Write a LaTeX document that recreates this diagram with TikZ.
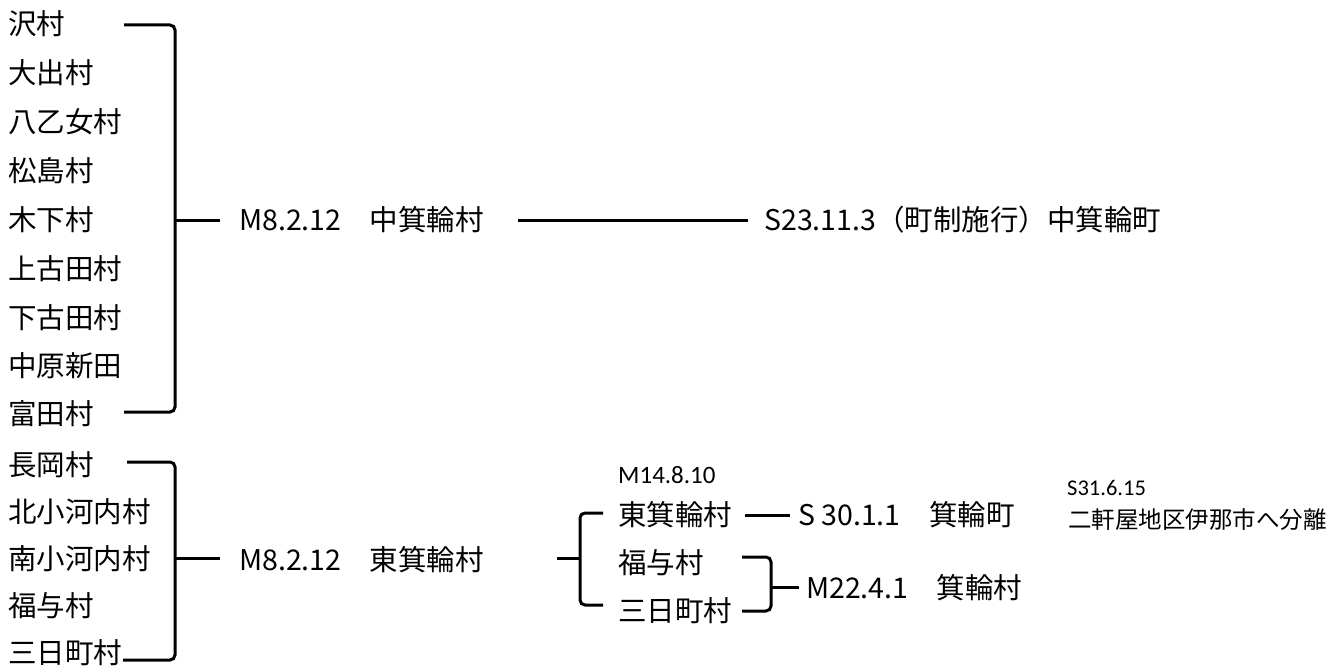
\documentclass[tikz,border=0pt]{standalone}
\usepackage{fontspec}
\setmainfont{Noto Sans CJK JP}
\newfontfamily\calfont{Carlito}
\begin{document}
\begin{tikzpicture}[x=1pt,y=-1pt,
  lbl/.style={anchor=west,inner sep=0pt,font=\fontsize{28.5}{28.5}\selectfont},
  small/.style={anchor=west,inner sep=0pt,font=\calfont\fontsize{25}{25}\selectfont},
  note/.style={anchor=west,inner sep=0pt,font=\fontsize{23.5}{23.5}\selectfont},
  ln/.style={line width=3pt},
  br/.style={line width=3pt,rounded corners=5pt}]
\useasboundingbox (0,0) rectangle (1343,669);
% top list
\node[lbl] (a1) at (8,24) {沢村};
\node[lbl] (a2) at (8,73) {大出村};
\node[lbl] (a3) at (8,122) {八乙女村};
\node[lbl] (a4) at (8,171) {松島村};
\node[lbl] (a5) at (8,220) {木下村};
\node[lbl] (a6) at (8,269) {上古田村};
\node[lbl] (a7) at (8,318) {下古田村};
\node[lbl] (a8) at (8,366) {中原新田};
\node[lbl] (a9) at (8,414) {富田村};
% bottom list
\node[lbl] (b1) at (8,465) {長岡村};
\node[lbl] (b2) at (8,512) {北小河内村};
\node[lbl] (b3) at (8,559) {南小河内村};
\node[lbl] (b4) at (8,606) {福与村};
\node[lbl] (b5) at (8,653) {三日町村};
% middle texts
\node[lbl] (m1) at (239,220) {M8.2.12　中箕輪村};
\node[lbl] (r1) at (764,220) {S23.11.3（町制施行）中箕輪町};
\node[lbl] (m2) at (239,560) {M8.2.12　東箕輪村};
\node[small] (d1) at (618,475) {M14.8.10};
\node[lbl] (c1) at (618,515) {東箕輪村};
\node[lbl] (c2) at (618,563) {福与村};
\node[lbl] (c3) at (618,611) {三日町村};
\node[lbl] (s1) at (798,515) {S 30.1.1　箕輪町};
\node[lbl] (s2) at (806,588) {M22.4.1　箕輪村};
\node[small,font=\calfont\fontsize{22.5}{22.5}\selectfont] (d2) at (1067,488) {S31.6.15};
\node[note] (n1) at (1068,520) {二軒屋地区伊那市へ分離};
% coordinates
\coordinate (p1) at (124,25);
\coordinate (p2) at (124,412);
\coordinate (p3) at (127,462);
\coordinate (p4) at (123,660);
\coordinate (v1) at (175,220);
\coordinate (v2) at (175,558);
\coordinate (e1) at (220,220);
\coordinate (e2) at (220,558);
\coordinate (h1) at (518,220);
\coordinate (h2) at (748,220);
\coordinate (f0) at (557,558);
\coordinate (f1) at (603,513);
\coordinate (f2) at (603,605);
\coordinate (k1) at (745,515);
\coordinate (k2) at (790,515);
\coordinate (g1) at (742,557);
\coordinate (g2) at (742,611);
\coordinate (g0) at (771,587);
\coordinate (g3) at (799,587);
% brackets
\draw[br] (p1) -- (175,25) -- (175,412) -- (p2);
\draw[ln] (v1) -- (e1);
\draw[br] (p3) -- (175,462) -- (175,660) -- (p4);
\draw[ln] (v2) -- (e2);
\draw[ln] (h1) -- (h2);
% fork
\draw[ln] (f0) -- (580,558);
\draw[br] (f1) -- (580,513) -- (580,605) -- (f2);
\draw[ln] (k1) -- (k2);
\draw[br] (g1) -- (771,557) -- (771,611) -- (g2);
\draw[ln] (g0) -- (g3);
\end{tikzpicture}
\end{document}
